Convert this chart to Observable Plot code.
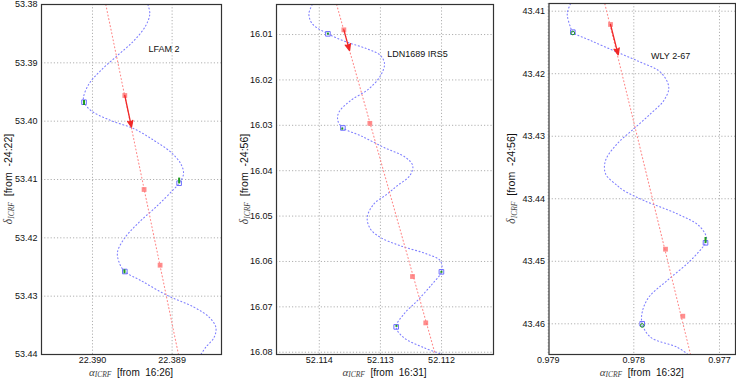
<!DOCTYPE html>
<html><head><meta charset="utf-8">
<script src="https://cdn.jsdelivr.net/npm/d3@7"></script>
<script src="https://cdn.jsdelivr.net/npm/@observablehq/plot@0.6"></script>
<style>
html,body{margin:0;padding:0;background:#fff;}
#wrap{position:relative;width:736px;height:378px;overflow:hidden;}
#wrap svg{position:absolute;top:0;}
</style></head><body><div id="wrap"></div>
<script>
// ---------- Panel 1: LFAM 2 ----------
const p1Name = "LFAM 2";
const p1RaLabel = "[from  16:26]";
const p1DecLabel = "[from  -24:22]";
const p1XTicks = [22.390, 22.389];
const p1YTicks = [53.38, 53.39, 53.40, 53.41, 53.42, 53.43, 53.44];
const p1ModelRa = [22.389305, 22.389280, 22.389330, 22.389477, 22.389686, 22.389896, 22.390043, 22.390113, 22.390106, 22.390021, 22.389770, 22.389477, 22.389226, 22.389016, 22.388891, 22.388857, 22.388912, 22.388995, 22.389183, 22.389435, 22.389603, 22.389686, 22.389666, 22.389594, 22.389393, 22.389058, 22.388724, 22.388535, 22.388451, 22.388472, 22.388577, 22.388639];
const p1ModelDec = [53.38000, 53.381594, 53.383600, 53.386172, 53.388743, 53.391315, 53.393595, 53.395892, 53.396750, 53.398173, 53.399887, 53.401310, 53.403316, 53.405321, 53.407310, 53.409025, 53.410636, 53.411888, 53.414459, 53.417596, 53.420168, 53.422465, 53.424180, 53.425774, 53.427317, 53.429888, 53.431894, 53.433609, 53.435323, 53.437037, 53.438752, 53.440003];
const p1PmRa = [22.389833, 22.388920];
const p1PmDec = [53.38, 53.44];
const p1EpochRa = [22.389594, 22.389352, 22.389151];
const p1EpochDec = [53.395601, 53.411716, 53.424694];
const p1ArrowRa = [22.389594, 22.389510];
const p1ArrowDec = [53.395601, 53.401035];
const p1FitRa = [22.390106, 22.388912, 22.389594];
const p1FitDec = [53.396750, 53.410636, 53.425774];
const p1ObsRa = [22.390106, 22.388912, 22.389598];
const p1ObsDec = [53.396887, 53.410259, 53.425826];
const p1ObsErr = [0.00043, 0.0005, 0.00035];
const p1ObsKind = ["bar", "bar", "bar"];

// ---------- Panel 2: LDN1689 IRS5 ----------
const p2Name = "LDN1689 IRS5";
const p2RaLabel = "[from  16:31]";
const p2DecLabel = "[from  -24:56]";
const p2XTicks = [52.114, 52.113, 52.112];
const p2YTicks = [16.01, 16.02, 16.03, 16.04, 16.05, 16.06, 16.07, 16.08];
const p2ModelRa = [52.114114, 52.114170, 52.114114, 52.113859, 52.113542, 52.113216, 52.112998, 52.112933, 52.112998, 52.113190, 52.113489, 52.113680, 52.113696, 52.113614, 52.113325, 52.112944, 52.112590, 52.112471, 52.112520, 52.112725, 52.112889, 52.113108, 52.113216, 52.113162, 52.112998, 52.112672, 52.112235, 52.112018, 52.112002, 52.112154, 52.112399, 52.112618, 52.112742, 52.112618, 52.112291, 52.111964];
const p2ModelDec = [16.003382, 16.005433, 16.007640, 16.009846, 16.011699, 16.013155, 16.014633, 16.016464, 16.019045, 16.021979, 16.024560, 16.027141, 16.028972, 16.030583, 16.032281, 16.034862, 16.037068, 16.038899, 16.041105, 16.043311, 16.045142, 16.047348, 16.050304, 16.052864, 16.054717, 16.056547, 16.058379, 16.059857, 16.062283, 16.064997, 16.068681, 16.071615, 16.074417, 16.076777, 16.078983, 16.080594];
const p2PmRa = [52.113717, 52.112100];
const p2PmDec = [16.003382, 16.080594];
const p2EpochRa = [52.113598, 52.113173, 52.112475, 52.112258];
const p2EpochDec = [16.008963, 16.029568, 16.063320, 16.073534];
const p2ArrowRa = [52.113598, 52.113505];
const p2ArrowDec = [16.008963, 16.013530];
const p2FitRa = [52.113859, 52.113614, 52.112002, 52.112742];
const p2FitDec = [16.009846, 16.030583, 16.062283, 16.074417];
const p2ObsRa = [52.113859, 52.113624, 52.112002, 52.112737];
const p2ObsDec = [16.009890, 16.030847, 16.062393, 16.074306];
const p2ObsErr = [0.00022, 0.00022, 0.00022, 0.00022];
const p2ObsKind = ["bar", "bar", "bar", "bar"];

// ---------- Panel 3: WLY 2-67 ----------
const p3Name = "WLY 2-67";
const p3RaLabel = "[from  16:32]";
const p3DecLabel = "[from  -24:56]";
const p3XTicks = [0.979, 0.978, 0.977];
const p3YTicks = [43.41, 43.42, 43.43, 43.44, 43.45, 43.46];
const p3ModelRa = [0.978739, 0.978777, 0.978739, 0.978712, 0.978505, 0.978194, 0.977922, 0.977688, 0.977592, 0.977650, 0.977805, 0.978000, 0.978194, 0.978330, 0.978330, 0.978194, 0.978117, 0.977883, 0.977494, 0.977242, 0.977152, 0.977163, 0.977338, 0.977610, 0.977825, 0.977902, 0.977902, 0.977805, 0.977494, 0.977377];
const p3ModelDec = [43.408816, 43.410416, 43.412559, 43.413359, 43.414686, 43.416558, 43.418157, 43.419757, 43.422156, 43.424283, 43.426411, 43.428810, 43.431209, 43.433880, 43.436008, 43.437879, 43.438679, 43.440278, 43.442406, 43.444277, 43.446148, 43.447044, 43.449875, 43.453074, 43.455745, 43.458145, 43.460000, 43.462143, 43.463743, 43.464798];
const p3PmRa = [0.978338, 0.977338];
const p3PmDec = [43.408816, 43.464910];
const p3EpochRa = [0.978272, 0.977630, 0.977428];
const p3EpochDec = [43.412127, 43.448068, 43.458784];
const p3ArrowRa = [0.978272, 0.978182];
const p3ArrowDec = [43.412127, 43.416974];
const p3FitRa = [0.978712, 0.977163, 0.977902];
const p3FitDec = [43.413359, 43.447044, 43.460000];
const p3ObsRa = [0.978712, 0.977163, 0.977902];
const p3ObsDec = [43.413487, 43.446676, 43.460272];
const p3ObsErr = [0.0004, 0.00048, 0.0004];
const p3ObsKind = ["ring", "bar", "ring"];

// ---------- layout ----------
const panels = [
  {name: p1Name, raLabel: p1RaLabel, decLabel: p1DecLabel, xTicks: p1XTicks, yTicks: p1YTicks,
   xDomain: [22.39064, 22.38838], yDomain: [53.44, 53.38],
   modelRa: p1ModelRa, modelDec: p1ModelDec, pmRa: p1PmRa, pmDec: p1PmDec,
   epochRa: p1EpochRa, epochDec: p1EpochDec, arrowRa: p1ArrowRa, arrowDec: p1ArrowDec,
   fitRa: p1FitRa, fitDec: p1FitDec, obsRa: p1ObsRa, obsDec: p1ObsDec, obsErr: p1ObsErr, obsKind: p1ObsKind,
   left: 0, width: 235, ml: 41, mr: 14, mt: 4, tdx: 107, tdy: 41, ylx: 12},
  {name: p2Name, raLabel: p2RaLabel, decLabel: p2DecLabel, xTicks: p2XTicks, yTicks: p2YTicks,
   xDomain: [52.11470, 52.11115], yDomain: [16.0805, 16.00338],
   modelRa: p2ModelRa, modelDec: p2ModelDec, pmRa: p2PmRa, pmDec: p2PmDec,
   epochRa: p2EpochRa, epochDec: p2EpochDec, arrowRa: p2ArrowRa, arrowDec: p2ArrowDec,
   fitRa: p2FitRa, fitDec: p2FitDec, obsRa: p2ObsRa, obsDec: p2ObsDec, obsErr: p2ObsErr, obsKind: p2ObsKind,
   left: 236, width: 262, ml: 40, mr: 5, mt: 4, tdx: 110.7, tdy: 46, ylx: 12},
  {name: p3Name, raLabel: p3RaLabel, decLabel: p3DecLabel, xTicks: p3XTicks, yTicks: p3YTicks,
   xDomain: [0.97899, 0.976813], yDomain: [43.46491, 43.40877],
   modelRa: p3ModelRa, modelDec: p3ModelDec, pmRa: p3PmRa, pmDec: p3PmDec,
   epochRa: p3EpochRa, epochDec: p3EpochDec, arrowRa: p3ArrowRa, arrowDec: p3ArrowDec,
   fitRa: p3FitRa, fitDec: p3FitDec, obsRa: p3ObsRa, obsDec: p3ObsDec, obsErr: p3ObsErr, obsKind: p3ObsKind,
   left: 500, width: 236, ml: 48.5, mr: 1, mt: 3, tdx: 102, tdy: 48.7, ylx: 15}
];

const H = 378, MB = 24;
const serif = "'Liberation Serif','DejaVu Serif',serif";
const sans = "'Liberation Sans',Arial,sans-serif";
const wrap = document.getElementById("wrap");

for (const c of panels) {
  const model = c.modelRa.map((ra, i) => ({ra, dec: c.modelDec[i]}));
  const pm = c.pmRa.map((ra, i) => ({ra, dec: c.pmDec[i]}));
  const epochs = c.epochRa.map((ra, i) => ({ra, dec: c.epochDec[i]}));
  const fits = c.fitRa.map((ra, i) => ({ra, dec: c.fitDec[i]}));
  const obs = c.obsRa.map((ra, i) => ({ra, dec: c.obsDec[i], lo: c.obsDec[i] - c.obsErr[i], hi: c.obsDec[i] + c.obsErr[i], kind: c.obsKind[i]}));
  const arrow = [{x1: c.arrowRa[0], y1: c.arrowDec[0], x2: c.arrowRa[1], y2: c.arrowDec[1]}];

  const svg = Plot.plot({
    width: c.width, height: H,
    marginLeft: c.ml, marginRight: c.mr, marginTop: c.mt, marginBottom: MB,
    style: {fontFamily: sans, fontSize: "9px", color: "#111", background: "transparent", overflow: "visible"},
    x: {domain: c.xDomain, ticks: c.xTicks, tickFormat: d3.format(".3f"), tickSize: 0, tickPadding: 2, label: null},
    y: {domain: c.yDomain, ticks: c.yTicks, tickFormat: d3.format(".2f"), tickSize: 0, tickPadding: 4, label: null},
    marks: [
      Plot.ruleX(c.xTicks, {stroke: "#b0b0b0", strokeDasharray: "1.2,2"}),
      Plot.ruleY(c.yTicks, {stroke: "#b0b0b0", strokeDasharray: "1.2,2"}),
      Plot.line(model, {x: "ra", y: "dec", curve: "catmull-rom", stroke: "#8080ff", strokeWidth: 1.1, strokeDasharray: "1,2.6", clip: true}),
      Plot.line(pm, {x: "ra", y: "dec", stroke: "#ff8a8a", strokeWidth: 1.1, strokeDasharray: "1,2.6", clip: true}),
      Plot.dot(fits, {x: "ra", y: "dec", symbol: "square", r: 2.6, stroke: "#7070ff", strokeWidth: 1, fill: "none"}),
      Plot.ruleX(obs.filter(d => d.kind === "bar"), {x: "ra", y1: "lo", y2: "hi", stroke: "#1f9a1f", strokeWidth: 2}),
      Plot.dot(obs.filter(d => d.kind === "ring"), {x: "ra", y: "dec", r: 1.8, stroke: "#1f9a1f", strokeWidth: 1, fill: "none"}),
      Plot.dot(epochs, {x: "ra", y: "dec", symbol: "square", r: 2.7, fill: "#ff7070", fillOpacity: 0.8}),
      Plot.arrow(arrow, {x1: "x1", y1: "y1", x2: "x2", y2: "y2", stroke: "#f02828", fill: "#f02828", strokeWidth: 1.3, headLength: 8, headAngle: 45}),
      Plot.text([c.name], {frameAnchor: "top-left", dx: c.tdx, dy: c.tdy, textAnchor: "start", fontSize: 9, fill: "#111"}),
      Plot.frame({stroke: "#333", strokeWidth: 1.2})
    ]
  });
  svg.style.left = c.left + "px";
  wrap.appendChild(svg);

  const s = d3.select(svg);
  const fx = (c.ml + c.width - c.mr) / 2;
  const fy = (c.mt + H - MB) / 2;
  // x label
  const xl = s.append("text").attr("x", fx).attr("y", 375.5).attr("text-anchor", "middle")
    .style("white-space", "pre").attr("fill", "#111");
  xl.append("tspan").attr("font-family", serif).attr("font-style", "italic").attr("font-size", 11).attr("fill", "#444").text("α");
  xl.append("tspan").attr("font-family", serif).attr("font-style", "italic").attr("font-size", 7.5).attr("dy", 1.5).attr("fill", "#444").text("ICRF");
  xl.append("tspan").attr("font-family", sans).attr("font-size", 10).attr("dy", -1.5).text("  " + c.raLabel);
  // y label
  const yl = s.append("text").attr("transform", `translate(${c.ylx},${fy}) rotate(-90)`).attr("text-anchor", "middle")
    .style("white-space", "pre").attr("fill", "#111");
  yl.append("tspan").attr("font-family", serif).attr("font-style", "italic").attr("font-size", 11.5).attr("fill", "#444").text("δ");
  yl.append("tspan").attr("font-family", serif).attr("font-style", "italic").attr("font-size", 7.5).attr("dy", 1.8).attr("fill", "#444").text("ICRF");
  yl.append("tspan").attr("font-family", sans).attr("font-size", 10.5).attr("dy", -1.8).text("  " + c.decLabel);
}
</script></body></html>
